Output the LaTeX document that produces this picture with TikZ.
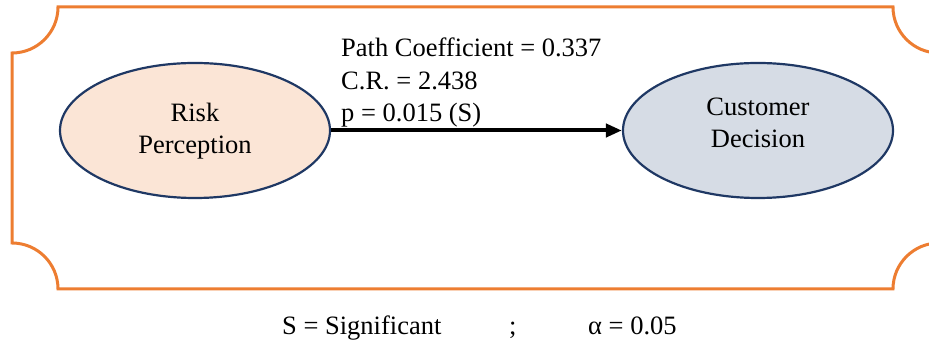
\documentclass[tikz,border=0pt]{standalone}
\usepackage{fontspec}
\setmainfont{Liberation Serif}
\usetikzlibrary{arrows.meta,shapes.geometric}

\definecolor{frameorange}{HTML}{ED7D31}
\definecolor{navyline}{HTML}{1F3864}
\definecolor{peachfill}{HTML}{FBE5D6}
\definecolor{greyblue}{HTML}{D6DCE5}

\tikzset{
  construct/.style={ellipse, draw=navyline, line width=2.2pt,
    minimum width=270pt, minimum height=135pt, inner sep=0pt},
  constructname/.style={align=center, inner sep=0pt,
    font=\fontsize{26.5}{32}\selectfont},
  pathlabel/.style={anchor=base west, inner sep=0pt,
    font=\fontsize{26.5}{32}\selectfont},
  legend/.style={anchor=base west, inner sep=0pt,
    font=\fontsize{26.5}{32}\selectfont},
  path arrow/.style={line width=4pt, -{Triangle[length=16pt,width=13pt]}}
}

\begin{document}
\begin{tikzpicture}[x=1pt,y=1pt]
  \useasboundingbox (0,0) rectangle (929,342);

  % plaque frame with concave corners
  \begin{scope}
    \clip (0,0) rectangle (929,342);
    \draw[frameorange, line width=3pt]
      (12,243) -- (12,289)
      arc[start angle=-90, end angle=0, radius=46] -- (893,335)
      arc[start angle=180, end angle=270, radius=46] -- (939,99)
      arc[start angle=90, end angle=180, radius=46] -- (58,53)
      arc[start angle=0, end angle=90, radius=46] -- cycle;
  \end{scope}

  % constructs
  \node[construct, fill=peachfill] (risk) at (195,211.5) {};
  \node[construct, fill=greyblue] (decision) at (758,211.5) {};
  \node[constructname] (risktext) at ([yshift=-1pt]risk.center) {Risk\\Perception};
  \node[constructname] (decisiontext) at ([yshift=8pt]decision.center) {Customer\\Decision};

  % structural path
  \draw[path arrow] (risk.east) -- (decision.west);

  % path estimates
  \node[pathlabel] (coef) at (341,285) {Path Coefficient = 0.337};
  \node[pathlabel] (cr) at (341,252) {C.R. = 2.438};
  \node[pathlabel] (pval) at (341,220) {p = 0.015 (S)};

  % legend
  \node[legend] (sig) at (282,7) {S = Significant};
  \node[legend] (sep) at (509,7) {;};
  \node[legend] (alpha) at (588,7) {α = 0.05};
\end{tikzpicture}
\end{document}
